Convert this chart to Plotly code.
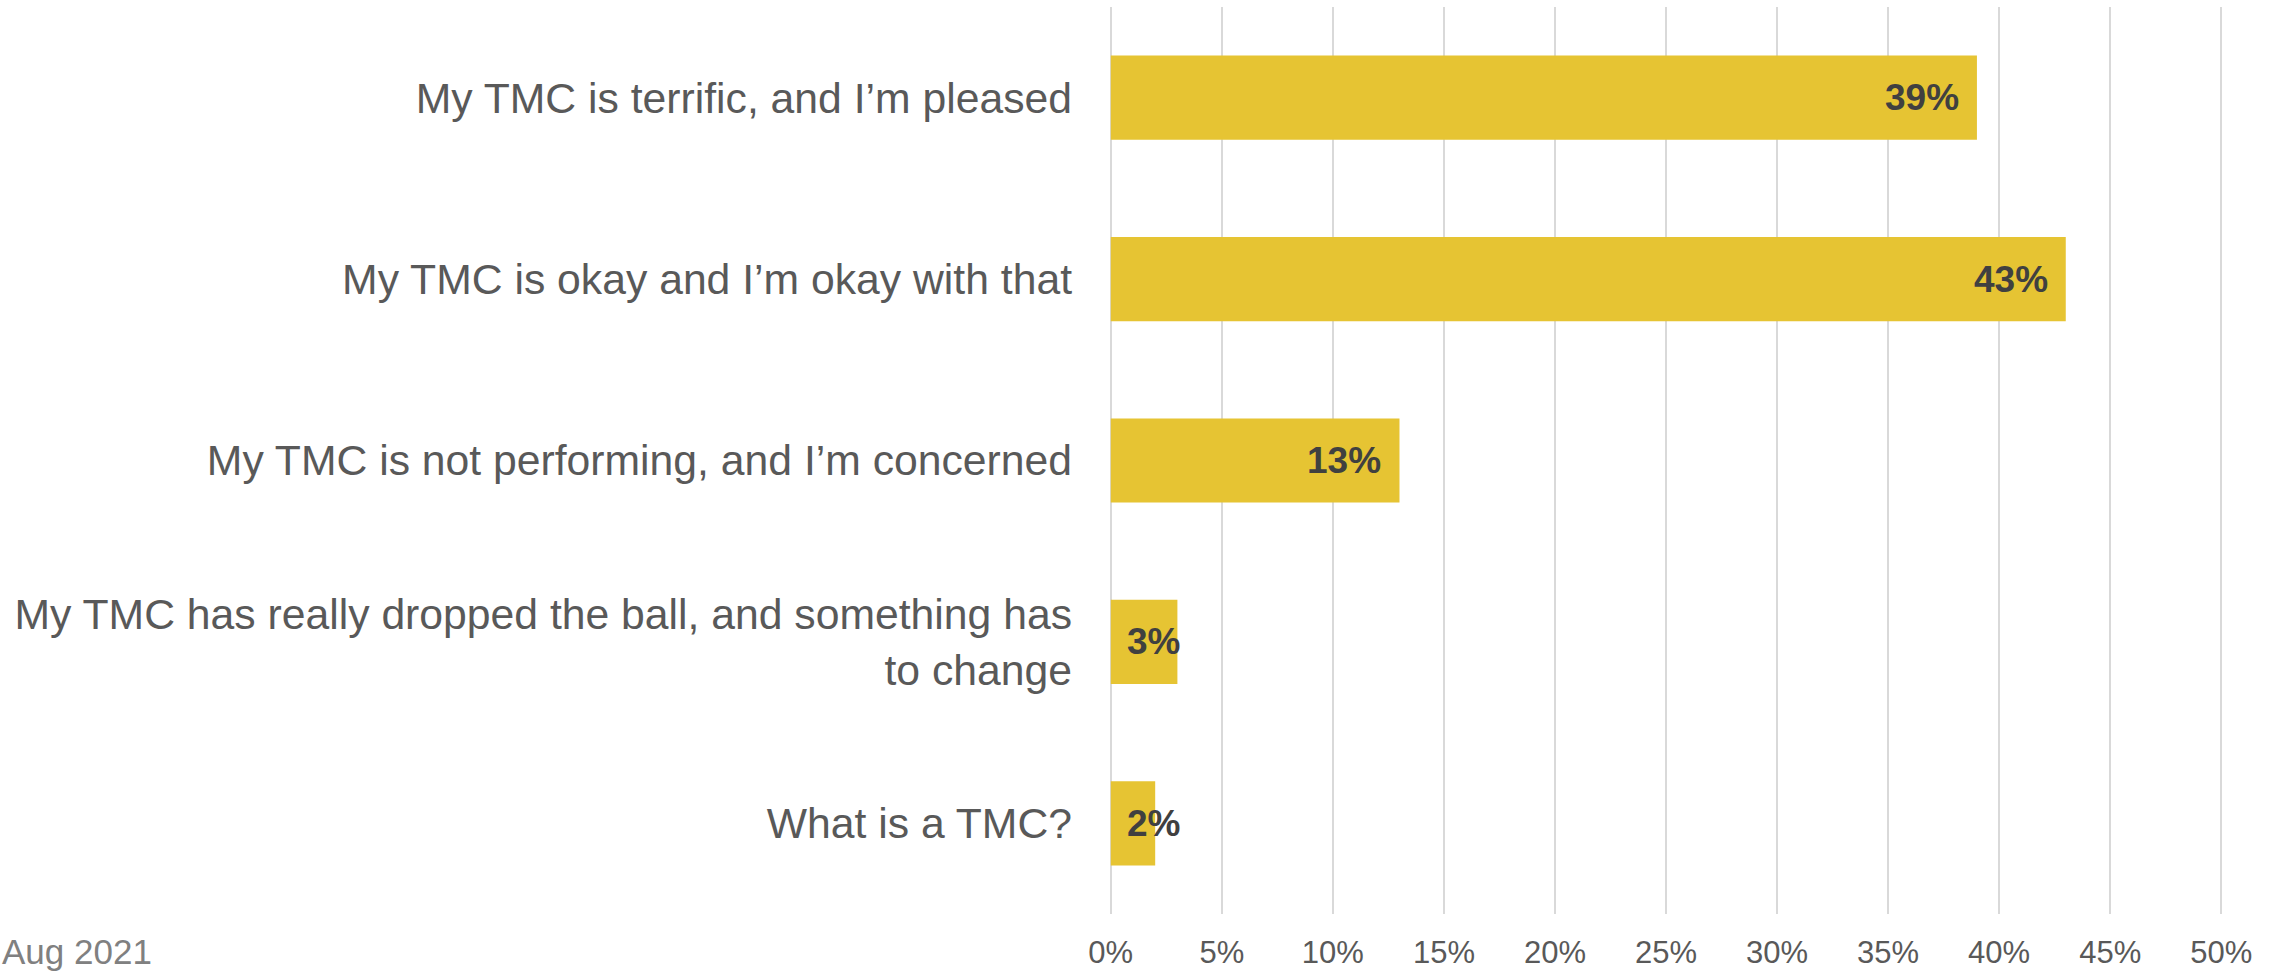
import plotly.graph_objects as go

# Survey responses, top to bottom
categories = [
    "My TMC is terrific, and I’m pleased",
    "My TMC is okay and I’m okay with that",
    "My TMC is not performing, and I’m concerned",
    "My TMC has really dropped the ball, and something has<br>to change",
    "What is a TMC?",
]
shares = [0.39, 0.43, 0.13, 0.03, 0.02]
tick_values = [0, 0.05, 0.10, 0.15, 0.20, 0.25, 0.30, 0.35, 0.40, 0.45, 0.50]
tick_labels = ["0%", "5%", "10%", "15%", "20%", "25%", "30%", "35%", "40%", "45%", "50%"]
footnote = "Aug 2021"

W, H = 2282, 973
ML, MR, MT, MB = 1109, 59, 7, 59
plot_w = W - ML - MR

FONT = "Liberation Sans, Arial, sans-serif"
BAR = "#E6C433"
LABEL = "#404040"
TEXT = "#595959"

fig = go.Figure(
    go.Bar(
        x=shares,
        y=categories,
        orientation="h",
        marker=dict(color=BAR, line=dict(width=0)),
        hoverinfo="skip",
    )
)

# value labels: inside the bar end, or from the bar base when the bar is too short
annotations = []
for cat, v in zip(categories, shares):
    txt = f"<b>{round(v * 100)}%</b>"
    lab_font = dict(family=FONT, size=37, color=LABEL)
    if v >= 0.05:
        annotations.append(dict(x=v, y=cat, xref="x", yref="y", text=txt, showarrow=False,
                                xanchor="right", xshift=-16, font=lab_font))
    else:
        annotations.append(dict(x=0, y=cat, xref="x", yref="y", text=txt, showarrow=False,
                                xanchor="left", xshift=14, font=lab_font))

annotations.append(dict(x=-ML / plot_w, y=0, xref="paper", yref="paper", text=footnote,
                        showarrow=False, xanchor="left", yanchor="middle", yshift=-37,
                        font=dict(family=FONT, size=35, color="#808080")))

fig.update_layout(
    width=W, height=H,
    margin=dict(l=ML, r=MR, t=MT, b=MB, pad=0, autoexpand=False),
    paper_bgcolor="white", plot_bgcolor="white",
    bargap=0.536,
    showlegend=False,
    annotations=annotations,
    font=dict(family=FONT, color=TEXT),
)
fig.update_xaxes(
    range=[-0.0008, 0.5008], tickvals=tick_values, ticktext=tick_labels,
    showgrid=True, gridcolor="#D9D9D9", gridwidth=1.5, zeroline=False,
    showline=False, ticks="", ticklabelstandoff=17, automargin=False,
    tickfont=dict(family=FONT, size=31, color=TEXT), fixedrange=True,
)
fig.update_yaxes(
    autorange="reversed", showgrid=False, zeroline=False, showline=False, ticks="",
    ticklabelstandoff=36, automargin=False,
    tickfont=dict(family=FONT, size=42.7, color=TEXT), fixedrange=True,
)

fig.write_html("out.html", config={"displayModeBar": False})
